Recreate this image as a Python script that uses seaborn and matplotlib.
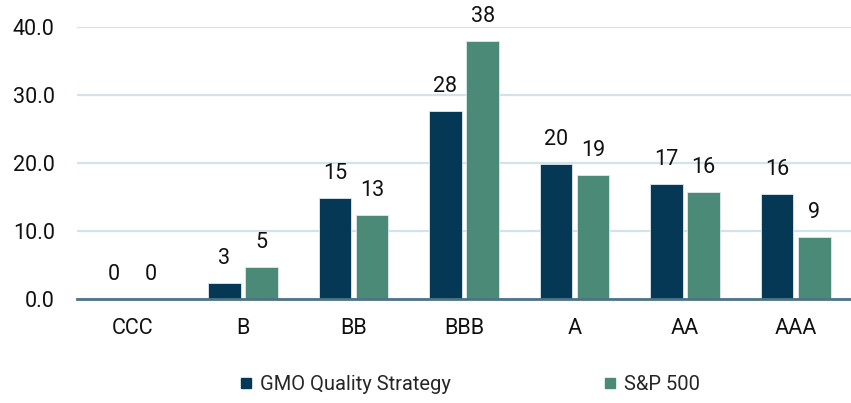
import pandas as pd
import matplotlib
matplotlib.use("Agg")
import matplotlib.pyplot as plt
import seaborn as sns
from matplotlib.lines import Line2D

# data
ratings = ["CCC", "B", "BB", "BBB", "A", "AA", "AAA"]
gmo_values = [0.0, 2.4, 14.9, 27.6, 19.9, 16.9, 15.5]
spx_values = [0.0, 4.7, 12.4, 38.0, 18.2, 15.7, 9.1]
gmo_labels = ["0", "3", "15", "28", "20", "17", "16"]
spx_labels = ["0", "5", "13", "38", "19", "16", "9"]
series = ["GMO Quality Strategy", "S&P 500"]
colors = ["#053855", "#4b8a77"]

df = pd.DataFrame({
    "rating": ratings * 2,
    "value": gmo_values + spx_values,
    "series": [series[0]] * len(ratings) + [series[1]] * len(ratings),
})

sns.set_style("white")
plt.rcParams["font.family"] = ["Roboto", "DejaVu Sans"]

fig = plt.figure(figsize=(8.51, 4.03), dpi=100)
ax = fig.add_axes([77 / 851, 1 - 299 / 403, (851 - 77) / 851, (299 - 27) / 403])

sns.barplot(data=df, x="rating", y="value", hue="series", order=ratings,
            hue_order=series, palette=colors, saturation=1, width=0.672, gap=0.125,
            edgecolor="#dfe9ef", linewidth=0.6, ax=ax, legend=False, zorder=3)

for cont, labs in zip(ax.containers, [gmo_labels, spx_labels]):
    ax.bar_label(cont, labels=labs, padding=10, fontsize=15.5, color="#111111")

ax.set_xlim(-0.5, len(ratings) - 0.5)
ax.set_ylim(0, 40)
ax.set_yticks([0, 10, 20, 30, 40])
ax.set_yticklabels([f"{v:.1f}" for v in [0, 10, 20, 30, 40]])
ax.yaxis.grid(True, color="#d3e3ec", linewidth=1.6, zorder=0)
ax.set_axisbelow(True)
ax.set_xlabel("")
ax.set_ylabel("")
for s in ["top", "right", "left"]:
    ax.spines[s].set_visible(False)
ax.spines["bottom"].set_color("#4e7386")
ax.spines["bottom"].set_linewidth(2)
ax.spines["bottom"].set_zorder(4)
ax.tick_params(axis="y", length=0, pad=16, labelsize=15.5, labelcolor="#111111")
ax.tick_params(axis="x", length=0, pad=14, labelsize=15.5, labelcolor="#111111")

handles = [Line2D([], [], marker="s", linestyle="", markersize=7, color=c) for c in colors]
fig.legend(handles, series, loc="center", bbox_to_anchor=(469 / 851, 1 - 385 / 403),
           ncol=2, frameon=False, fontsize=14.5, handletextpad=0.3,
           columnspacing=7.5, handlelength=0.8)

fig.savefig("out.png", dpi=100)
